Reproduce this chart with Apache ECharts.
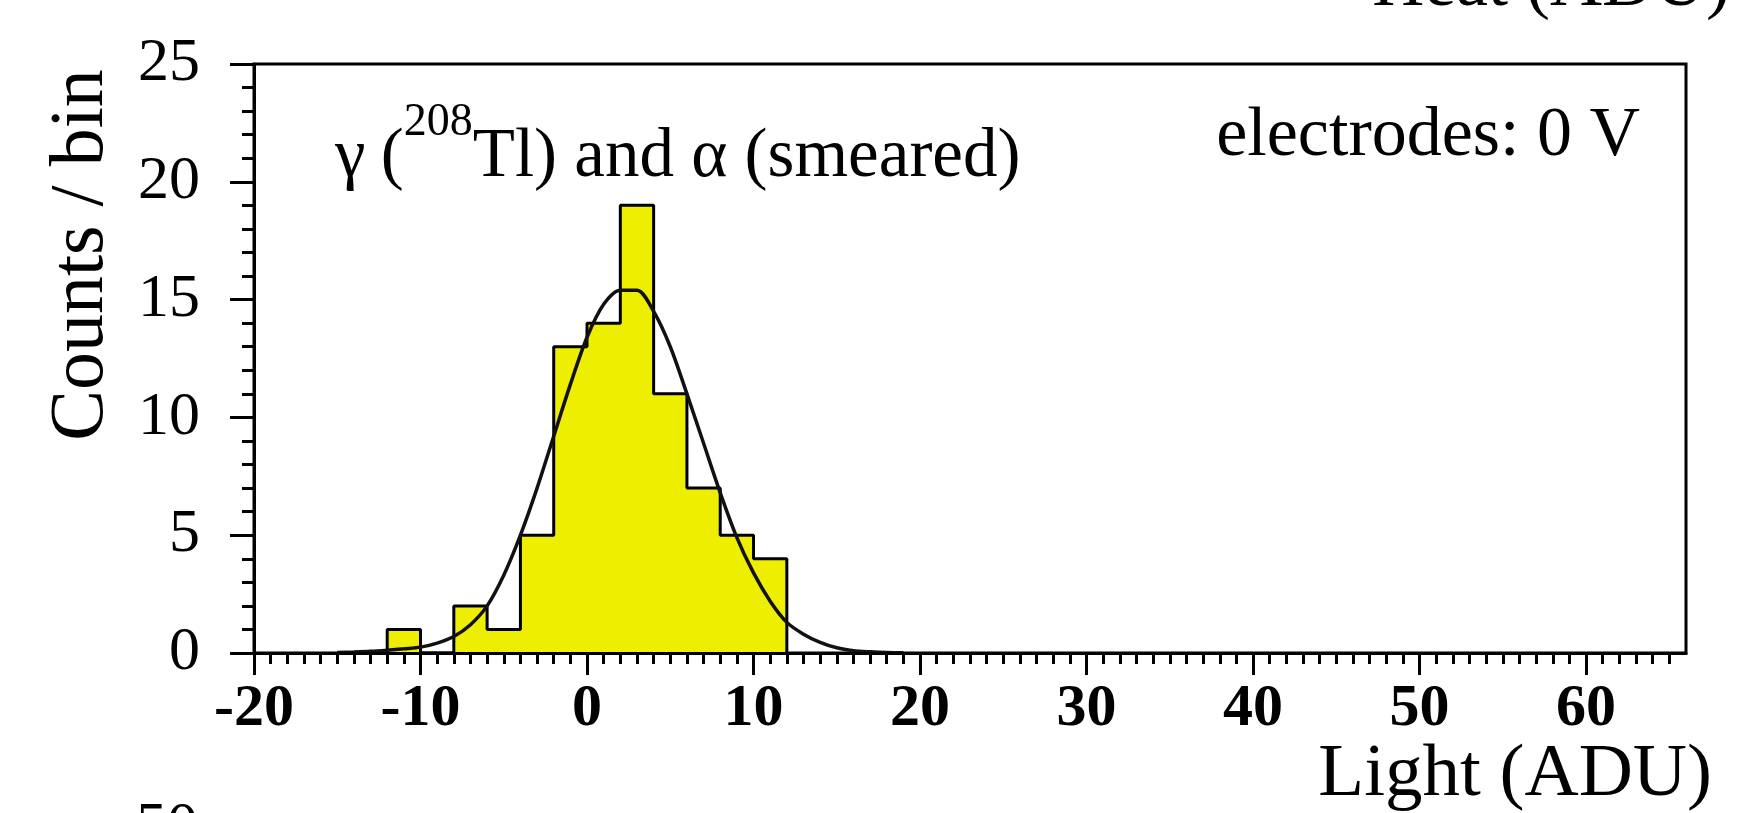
<!DOCTYPE html>
<html>
<head>
<meta charset="utf-8">
<title>Light (ADU)</title>
<script src="https://cdn.jsdelivr.net/npm/echarts@6/dist/echarts.min.js"></script>
<style>
html, body { margin: 0; padding: 0; background: #fff; }
#chart { width: 1748px; height: 813px; }
</style>
</head>
<body>
<div id="chart"></div>
<script>
// histogram: low edge of each 2 ADU bin and its count
var binLow = [-12, -10, -8, -6, -4, -2, 0, 2, 4, 6, 8, 10];
var binWidth = 2;
var counts = [1, 0, 2, 1, 5, 13, 14, 19, 11, 7, 5, 4];

// gaussian fit curve
var fitX = [-15, -14, -13, -12, -11, -10, -9, -8, -7, -6, -5, -4, -3, -2, -1, 0, 1, 2, 3,
	4, 5, 6, 7, 8, 9, 10, 11, 12, 13, 14, 15, 16, 17, 18, 19];
var fitY = [0.02, 0.04, 0.07, 0.12, 0.18, 0.25, 0.42, 0.7, 1.2, 2.0, 3.3, 5.0, 7.0, 9.2, 11.4, 13.4, 14.8, 15.4, 15.4,
	14.5, 13.0, 11.0, 8.9, 6.8, 4.9, 3.4, 2.2, 1.3, 0.8, 0.45, 0.22, 0.1, 0.05, 0.02, 0.01];

// axis ticks
var xMajor = [-20, -10, 0, 10, 20, 30, 40, 50, 60];
var xRange = [-20, 66];
var yRange = [0, 25];

window.onload = function () {
	"use strict";
	var chart = echarts.init(document.getElementById('chart'));
	var serif = '"Liberation Serif", "Times New Roman", serif';
	var black = '#000';

	// step outline: up from 0 at the first edge, along each bin, back down at the last edge
	var histPoints = [[binLow[0], 0]];
	for (var i = 0; i < binLow.length; i++) {
		histPoints.push([binLow[i], counts[i]]);
	}
	histPoints.push([binLow[binLow.length - 1] + binWidth, 0]);

	var fitPoints = fitX.map(function (x, k) { return [x, fitY[k]]; });

	// small ticks every 1 ADU
	var xMinor = [];
	for (var v = xRange[0]; v < xRange[1]; v++) {
		xMinor.push(v);
	}

	var option = {
		backgroundColor: '#fff',
		animation: false,
		grid: {
			left: 254,
			right: 62,
			top: 64,
			bottom: 160,
			show: true,
			borderColor: black,
			borderWidth: 3,
			backgroundColor: 'transparent',
			outerBoundsMode: 'none'
		},
		xAxis: [{
			type: 'value',
			min: xRange[0],
			max: xRange[1],
			position: 'bottom',
			z: 5,
			axisLine: { show: true, onZero: false, lineStyle: { color: black, width: 3 } },
			axisTick: { show: true, inside: false, length: 22, customValues: xMajor, lineStyle: { color: black, width: 3 } },
			axisLabel: {
				customValues: xMajor,
				margin: 26,
				color: black,
				fontFamily: serif,
				fontSize: 60,
				fontWeight: 'bold'
			},
			splitLine: { show: false }
		}, {
			type: 'value',
			min: xRange[0],
			max: xRange[1],
			position: 'bottom',
			z: 5,
			axisLine: { show: false, onZero: false },
			axisTick: { show: true, inside: false, length: 11, customValues: xMinor, lineStyle: { color: black, width: 3 } },
			axisLabel: { show: false },
			splitLine: { show: false }
		}],
		yAxis: {
			type: 'value',
			min: yRange[0],
			max: yRange[1],
			interval: 5,
			z: 5,
			axisLine: { show: true, onZero: false, lineStyle: { color: black, width: 3 } },
			axisTick: { show: true, inside: false, length: 24, lineStyle: { color: black, width: 3 } },
			minorTick: { show: true, splitNumber: 5, length: 12, lineStyle: { color: black, width: 3 } },
			axisLabel: { margin: 54, color: black, fontFamily: serif, fontSize: 62 },
			splitLine: { show: false },
			minorSplitLine: { show: false }
		},
		series: [{
			name: 'counts',
			type: 'line',
			xAxisIndex: 0,
			step: 'end',
			symbol: 'none',
			silent: true,
			data: histPoints,
			lineStyle: { color: black, width: 3 },
			areaStyle: { color: '#eeee00', opacity: 1 }
		}, {
			name: 'fit',
			type: 'line',
			xAxisIndex: 0,
			smooth: 0.3,
			symbol: 'none',
			silent: true,
			data: fitPoints,
			lineStyle: { color: '#111', width: 3.5 }
		}],
		graphic: [{
			type: 'text',
			x: 82,
			y: 255,
			rotation: Math.PI / 2,
			style: {
				text: 'Counts / bin',
				font: '76px ' + serif,
				fill: black,
				align: 'center',
				verticalAlign: 'middle',
				textAlign: 'center',
				textVerticalAlign: 'middle'
			}
		}, {
			type: 'text',
			x: 1712,
			y: 775,
			style: {
				text: 'Light (ADU)',
				font: '75px ' + serif,
				fill: black,
				align: 'right',
				verticalAlign: 'middle',
				textAlign: 'right',
				textVerticalAlign: 'middle'
			}
		}, {
			type: 'text',
			x: 1730,
			y: -14,
			style: {
				text: 'Heat (ADU)',
				font: '72px ' + serif,
				fill: black,
				align: 'right',
				verticalAlign: 'middle',
				textAlign: 'right',
				textVerticalAlign: 'middle'
			}
		}, {
			type: 'text',
			x: 198,
			y: 828,
			style: {
				text: '50',
				font: '62px ' + serif,
				fill: black,
				align: 'right',
				verticalAlign: 'middle',
				textAlign: 'right',
				textVerticalAlign: 'middle'
			}
		}, {
			type: 'text',
			x: 1640,
			y: 137,
			style: {
				text: 'electrodes: 0 V',
				font: '70px ' + serif,
				fill: black,
				align: 'right',
				verticalAlign: 'middle',
				textAlign: 'right',
				textVerticalAlign: 'middle'
			}
		}, {
			type: 'text',
			x: 335,
			y: 123,
			style: {
				text: '{g|γ} {m|(}{s|208}{m|Tl) and α (smeared)}',
				fill: black,
				align: 'left',
				verticalAlign: 'top',
				rich: {
					g: { font: '69px ' + serif, fill: black, lineHeight: 69, verticalAlign: 'bottom', padding: [0, 12, 0, 0] },
					m: { font: '69px ' + serif, fill: black, lineHeight: 69, verticalAlign: 'bottom' },
					s: { font: '46px ' + serif, fill: black, lineHeight: 46, verticalAlign: 'bottom', padding: [0, 0, 46, 0] }
				}
			}
		}]
	};

	chart.setOption(option);
};
</script>
</body>
</html>
